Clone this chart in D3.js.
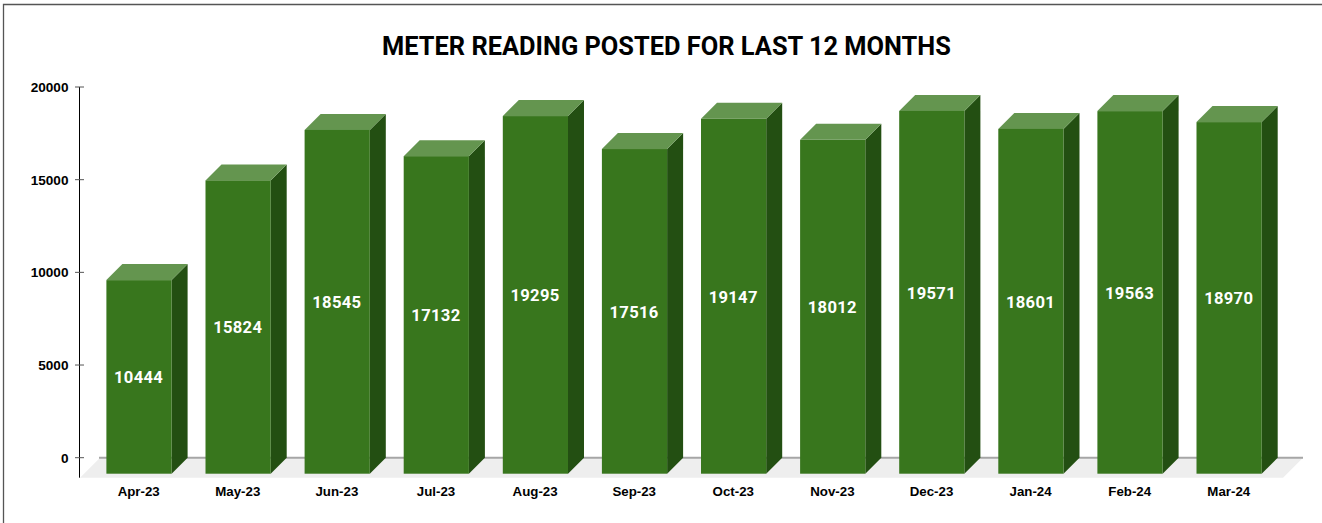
<!DOCTYPE html>
<html><head><meta charset="utf-8">
<script src="https://cdnjs.cloudflare.com/ajax/libs/d3/7.8.5/d3.min.js"></script>
<style>html,body{margin:0;padding:0;background:#fff;overflow:hidden}svg{display:block}</style>
</head><body><svg id="c" width="1322" height="523"></svg>
<script>
const chartTitle = "METER READING POSTED FOR LAST 12 MONTHS";
const months = ["Apr-23","May-23","Jun-23","Jul-23","Aug-23","Sep-23","Oct-23","Nov-23","Dec-23","Jan-24","Feb-24","Mar-24"];
const readings = [10444,15824,18545,17132,19295,17516,19147,18012,19571,18601,19563,18970];
const yTicks = [0,5000,10000,15000,20000];

const depth = 16;
const svg = d3.select("#c");
const y = d3.scaleLinear().domain([0,20000]).range([457.7,87]);
const step = 99.1, bw = 65.2;
const x = d3.scaleBand().domain(months)
  .range([106.4 - (step-bw)/2, 106.4 - (step-bw)/2 + step*12]).paddingInner(1-bw/step).paddingOuter((1-bw/step)/2);

// frame
svg.append("path").attr("d","M3.5,523V4.5H1322").attr("fill","none").attr("stroke","#555").attr("stroke-width",1.3);

// title
svg.append("text").attr("x",666.5).attr("y",55.4).attr("text-anchor","middle")
  .attr("font-family","Roboto").attr("font-weight",700).attr("font-size",25.4).attr("fill","#000").text(chartTitle);

// floor
const x0 = 80, x1 = 1283;
svg.append("polygon").attr("points",[[x0,y(0)+20],[x0+20,y(0)],[x1+20,y(0)],[x1,y(0)+20]].join(" ")).attr("fill","#eeeeee");
svg.append("line").attr("x1",x0+19).attr("x2",x1+20).attr("y1",y(0)).attr("y2",y(0)).attr("stroke","#a6a6a6").attr("stroke-width",2);

// y axis
const axisG = svg.append("g").attr("transform","translate(79.5,0)")
  .call(d3.axisLeft(y).tickValues(yTicks).tickFormat(d3.format("d")).tickSize(0).tickPadding(11));
axisG.select(".domain").remove();
axisG.selectAll("text").attr("font-family","Liberation Sans").attr("font-weight",700).attr("font-size",13.6).attr("fill","#000");
svg.append("line").attr("x1",79.5).attr("x2",79.5).attr("y1",y(20000)).attr("y2",y(0)+20).attr("stroke","#000").attr("stroke-width",1);
svg.append("g").selectAll("line").data(yTicks).join("line")
  .attr("x1",75).attr("x2",84).attr("y1",d=>y(d)).attr("y2",d=>y(d)).attr("stroke","#555").attr("stroke-width",1);

// bars
const bars = svg.append("g").selectAll("g").data(months.map((m,i)=>({m,v:readings[i]}))).join("g");
const fx = d=>x(d.m), w = x.bandwidth();
const ft = d=>y(d.v)+depth, fb = y(0)+depth;
bars.append("polygon").attr("fill","#234f12")
  .attr("points",d=>[[fx(d)+w,ft(d)],[fx(d)+w+depth,ft(d)-depth],[fx(d)+w+depth,fb-depth],[fx(d)+w,fb]].join(" "));
bars.append("polygon").attr("fill","#64954f")
  .attr("points",d=>[[fx(d),ft(d)],[fx(d)+depth,ft(d)-depth],[fx(d)+w+depth,ft(d)-depth],[fx(d)+w,ft(d)]].join(" "));
bars.append("rect").attr("fill","#38761d").attr("x",fx).attr("y",ft).attr("width",w).attr("height",d=>fb-ft(d));
bars.append("text").attr("x",d=>fx(d)+w/2-0.4).attr("y",d=>(ft(d)+fb)/2+6.4).attr("text-anchor","middle")
  .attr("font-family","Roboto").attr("font-weight",700).attr("font-size",16.6).attr("letter-spacing",0.3).attr("fill","#fff").text(d=>d.v);

// x labels
svg.append("g").selectAll("text").data(months).join("text")
  .attr("x",d=>x(d)+w/2-0.3).attr("y",496).attr("text-anchor","middle")
  .attr("font-family","Liberation Sans").attr("font-weight",700).attr("font-size",13.3).attr("fill","#000").text(d=>d);
</script></body></html>
